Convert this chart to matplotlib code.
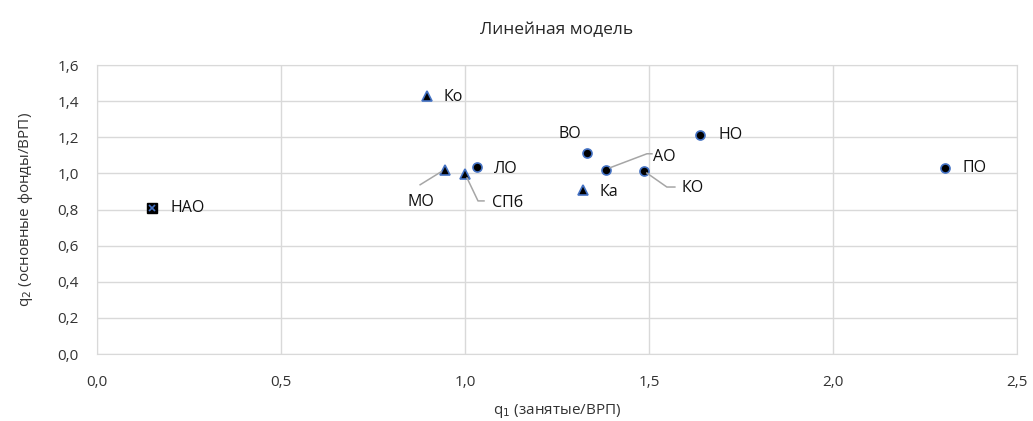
import matplotlib
matplotlib.use("Agg")
import matplotlib.pyplot as plt
import numpy as np

plt.rcParams['font.family'] = ['Open Sans', 'DejaVu Sans']

# data
circle_names = ["ЛО", "ВО", "АО", "КО", "НО", "ПО"]
circle_q1 = [1.033, 1.332, 1.383, 1.486, 1.639, 2.304]
circle_q2 = [1.035, 1.113, 1.020, 1.013, 1.213, 1.030]

tri_names = ["Ко", "МО", "СПб", "Ка"]
tri_q1 = [0.897, 0.946, 1.000, 1.320]
tri_q2 = [1.430, 1.020, 0.997, 0.910]

sq_names = ["НАО"]
sq_q1 = [0.150]
sq_q2 = [0.810]

x_ticks = [0.0, 0.5, 1.0, 1.5, 2.0, 2.5]
y_ticks = [0.0, 0.2, 0.4, 0.6, 0.8, 1.0, 1.2, 1.4, 1.6]

# label layout: offsets in pixels (dx, dy up), horizontal alignment
label_layout = {
    "НАО": (18, 0, 'left'),
    "Ко": (16, -1, 'left'),
    "ЛО": (17, -2, 'left'),
    "ВО": (-17, 19, 'center'),
    "АО": (47, 13, 'left'),
    "НО": (18, 0, 'left'),
    "ПО": (18, 0, 'left'),
    "Ка": (17, -2, 'left'),
    "КО": (38, -17, 'left'),
    "МО": (-24, -32, 'center'),
    "СПб": (27, -29, 'left'),
}
leaders = {
    "МО": [(-4, -2), (-25, -15)],
    "СПб": [(2, -4), (13, -27), (19, -27)],
    "АО": [(4, 2), (41, 16), (46, 16)],
    "КО": [(3, -2), (23, -16), (31, -16)],
}

fig = plt.figure(figsize=(10.33, 4.21), dpi=100)
ax = fig.add_axes([97/1033, 1 - 354/421, 920/1033, 289/421])
ax.set_xlim(0, 2.5)
ax.set_ylim(0, 1.6)
ax.set_xticks(x_ticks)
ax.set_yticks(y_ticks)
ax.set_xticklabels([f"{v:.1f}".replace('.', ',') for v in x_ticks])
ax.set_yticklabels([f"{v:.1f}".replace('.', ',') for v in y_ticks])
ax.tick_params(length=0, labelsize=11, colors='#333333')
ax.tick_params(axis='x', pad=15)
ax.tick_params(axis='y', pad=13)
ax.grid(True, color='#D9D9D9', linewidth=1)
ax.set_axisbelow(True)
for s in ax.spines.values():
    s.set_color('#D9D9D9')

blue = '#4472C4'
ax.plot(circle_q1, circle_q2, 'o', ms=6.5, mfc='black', mec=blue, mew=1.2, ls='none', zorder=3)
ax.plot(tri_q1, tri_q2, '^', ms=7, mfc='black', mec=blue, mew=1.2, ls='none', zorder=3)
ax.plot(sq_q1, sq_q2, 's', ms=6.5, mfc='black', mec='black', ls='none', zorder=3)
ax.plot(sq_q1, sq_q2, 'x', ms=5, mec=blue, mew=1.2, ls='none', zorder=4)

fig.canvas.draw()
all_names = circle_names + tri_names + sq_names
all_q1 = circle_q1 + tri_q1 + sq_q1
all_q2 = circle_q2 + tri_q2 + sq_q2
for n, x, y in zip(all_names, all_q1, all_q2):
    dx, dy, ha = label_layout[n]
    ax.annotate(n, (x, y), xytext=(dx, dy), textcoords='offset pixels',
                ha=ha, va='center', fontsize=11.5, color='#111111')
    if n in leaders:
        px, py = ax.transData.transform((x, y))
        pts = np.array([(px + a, py + b) for a, b in leaders[n]])
        line = plt.Line2D(pts[:, 0], pts[:, 1], color='#A6A6A6', lw=1.1,
                          transform=None, zorder=2)
        fig.add_artist(line)

ax.set_xlabel("q$_1$ (занятые/ВРП)", fontsize=11, color='#333333', labelpad=9)
ax.set_ylabel("q$_2$ (основные фонды/ВРП)", fontsize=11, color='#333333', labelpad=16)
fig.text(557/1033, 1 - 30/421, "Линейная модель", ha='center', va='center',
         fontsize=12.5, color='#262626')

fig.savefig("out.png", dpi=100)
